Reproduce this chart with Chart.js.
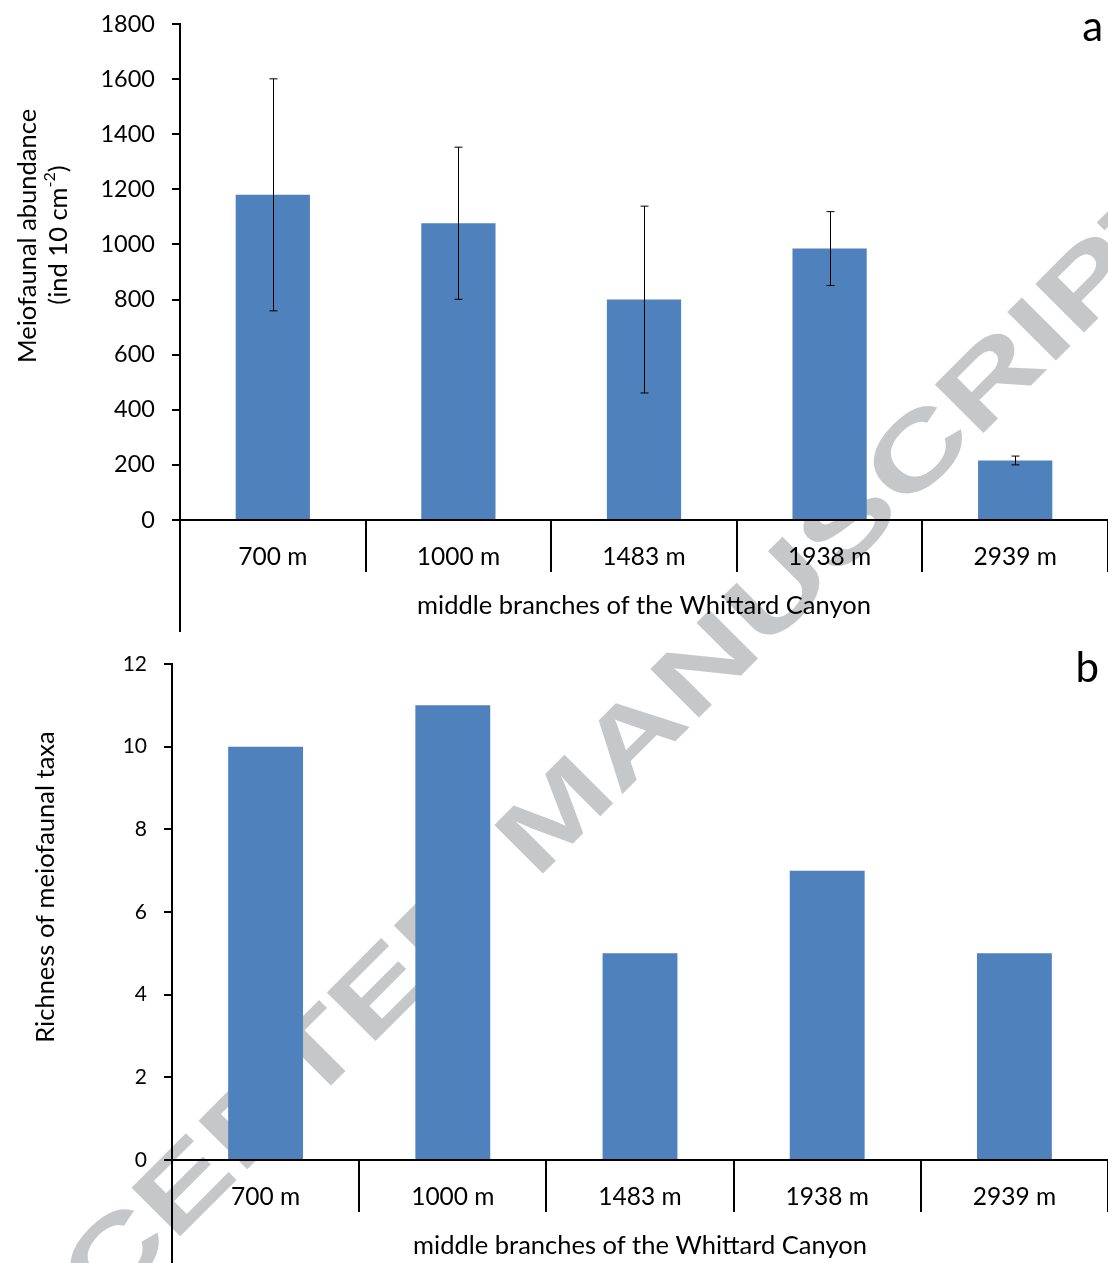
<!DOCTYPE html>
<html>
<head>
<meta charset="utf-8">
<script src="https://cdn.jsdelivr.net/npm/chart.js@4.4.1/dist/chart.umd.min.js"></script>
<style>
  body { margin: 0; background: #fff; }
  #wrap { position: relative; width: 1108px; height: 1263px; overflow: hidden; background: #fff; }
  #wm {
    position: absolute; left: 556px; top: 811px;
    transform: translate(-50%, -50%) rotate(-45deg) scaleX(1.42);
    font: bold 100px "Liberation Sans", Arial, sans-serif;
    color: #c6c7c9; white-space: nowrap; line-height: 1;
  }
  canvas { position: absolute; left: 0; }
  #c1 { top: 0; }
  #c2 { top: 632px; }
</style>
</head>
<body>
<div id="wrap">
  <div id="wm">ACCEPTED MANUSCRIPT</div>
  <canvas id="c1" width="1108" height="632"></canvas>
  <canvas id="c2" width="1108" height="631"></canvas>
</div>
<script>
// data
const depths = ['700 m', '1000 m', '1483 m', '1938 m', '2939 m'];
const abundance = [1180, 1077, 800, 985, 216];
const abundanceErr = [421, 276, 339, 134, 16];
const richness = [10, 11, 5, 7, 5];
const xTitle = 'middle branches of the Whittard Canyon';

const FONT = 'Lato, "Open Sans", sans-serif';
const BLUE = '#4f81bd';
const TITLE_SIZE = 25.5;

// error bars, drawn over the bars
const errorBars = {
  id: 'errorBars',
  afterDatasetsDraw(chart, args, opts) {
    if (!opts.err) return;
    const ctx = chart.ctx;
    const y = chart.scales.y;
    const meta = chart.getDatasetMeta(0);
    const vals = chart.data.datasets[0].data;
    ctx.save();
    ctx.strokeStyle = '#000';
    ctx.lineWidth = 1;
    meta.data.forEach((bar, i) => {
      const x = Math.round(bar.x) + 0.5;
      const y1 = y.getPixelForValue(vals[i] + opts.err[i]);
      const y2 = y.getPixelForValue(vals[i] - opts.err[i]);
      ctx.beginPath();
      ctx.moveTo(x, y1); ctx.lineTo(x, y2);
      ctx.moveTo(x - 4, y1); ctx.lineTo(x + 4, y1);
      ctx.moveTo(x - 4, y2); ctx.lineTo(x + 4, y2);
      ctx.stroke();
    });
    ctx.restore();
  }
};

// y title (with superscript), panel letter, left frame line below the axis
const decor = {
  id: 'decor',
  afterDraw(chart, args, opts) {
    const ctx = chart.ctx;
    const area = chart.chartArea;
    ctx.save();
    ctx.strokeStyle = '#000';
    ctx.lineWidth = 2;
    ctx.beginPath();
    ctx.moveTo(area.left, area.bottom);
    ctx.lineTo(area.left, chart.height);
    ctx.stroke();

    ctx.fillStyle = '#000';
    ctx.font = '42px ' + FONT;
    ctx.textAlign = 'right';
    ctx.textBaseline = 'alphabetic';
    ctx.fillText(opts.letter, opts.letterX, opts.letterY);

    ctx.textBaseline = 'middle';
    const big = TITLE_SIZE + 'px ' + FONT;
    const small = '16px ' + FONT;
    opts.titles.forEach(t => {
      ctx.save();
      ctx.translate(t.x, t.y);
      ctx.rotate(-Math.PI / 2);
      let total = 0;
      t.parts.forEach(p => {
        ctx.font = p.sup ? small : big;
        total += ctx.measureText(p.text).width;
      });
      let cx = -total / 2;
      ctx.textAlign = 'left';
      t.parts.forEach(p => {
        ctx.font = p.sup ? small : big;
        ctx.fillText(p.text, cx, p.sup ? -9 : 0);
        cx += ctx.measureText(p.text).width;
      });
      ctx.restore();
    });
    ctx.restore();
  }
};

function makeChart(id, values, yMax, yStep, err, cfg) {
  return new Chart(document.getElementById(id), {
    type: 'bar',
    data: {
      labels: depths,
      datasets: [{
        data: values,
        backgroundColor: BLUE,
        borderWidth: 0,
        categoryPercentage: 1.0,
        barPercentage: 0.4
      }]
    },
    options: {
      responsive: false,
      animation: false,
      events: [],
      layout: { padding: { top: cfg.top, right: 0, left: 0, bottom: 0 } },
      plugins: {
        legend: { display: false },
        tooltip: { enabled: false },
        errorBars: { err: err },
        decor: cfg.decor
      },
      scales: {
        x: {
          offset: true,
          grid: { offset: true, drawOnChartArea: false, drawTicks: true, tickLength: 52, color: '#000', lineWidth: 2 },
          border: { display: true, color: '#000', width: 2 },
          ticks: { color: '#000', font: { family: FONT, size: 24.5 }, padding: -30, maxRotation: 0 },
          title: { display: true, text: xTitle, color: '#000', font: { family: FONT, size: TITLE_SIZE }, padding: { top: 0, bottom: cfg.titlePad } },
          afterFit(scale) { scale.height = cfg.axisH; }
        },
        y: {
          min: 0, max: yMax,
          ticks: { stepSize: yStep, color: '#000', font: { family: FONT, size: cfg.yFont }, padding: 17, callback: v => String(v) },
          grid: { drawOnChartArea: false, drawTicks: true, tickLength: 8, color: '#000', lineWidth: 2 },
          border: { display: true, color: '#000', width: 2 },
          afterFit(scale) {
            scale.width = cfg.left;
            scale.paddingTop = 12;
            scale.paddingBottom = 12;
          }
        }
      }
    },
    plugins: [errorBars, decor]
  });
}

makeChart('c1', abundance, 1800, 200, abundanceErr, {
  top: 24, axisH: 112, left: 180, yFont: 23.5, titlePad: 10.7,
  decor: {
    letter: 'a', letterX: 1103, letterY: 41,
    titles: [
      { x: 28, y: 236, parts: [{ text: 'Meiofaunal abundance' }] },
      { x: 59, y: 235, parts: [{ text: '(ind 10 cm' }, { text: '-2', sup: true }, { text: ')' }] }
    ]
  }
});

makeChart('c2', richness, 12, 2, null, {
  top: 32, axisH: 103, left: 172, yFont: 21, titlePad: 1.7,
  decor: {
    letter: 'b', letterX: 1099, letterY: 50,
    titles: [
      { x: 46, y: 255, parts: [{ text: 'Richness of meiofaunal taxa' }] }
    ]
  }
});
</script>
</body>
</html>
